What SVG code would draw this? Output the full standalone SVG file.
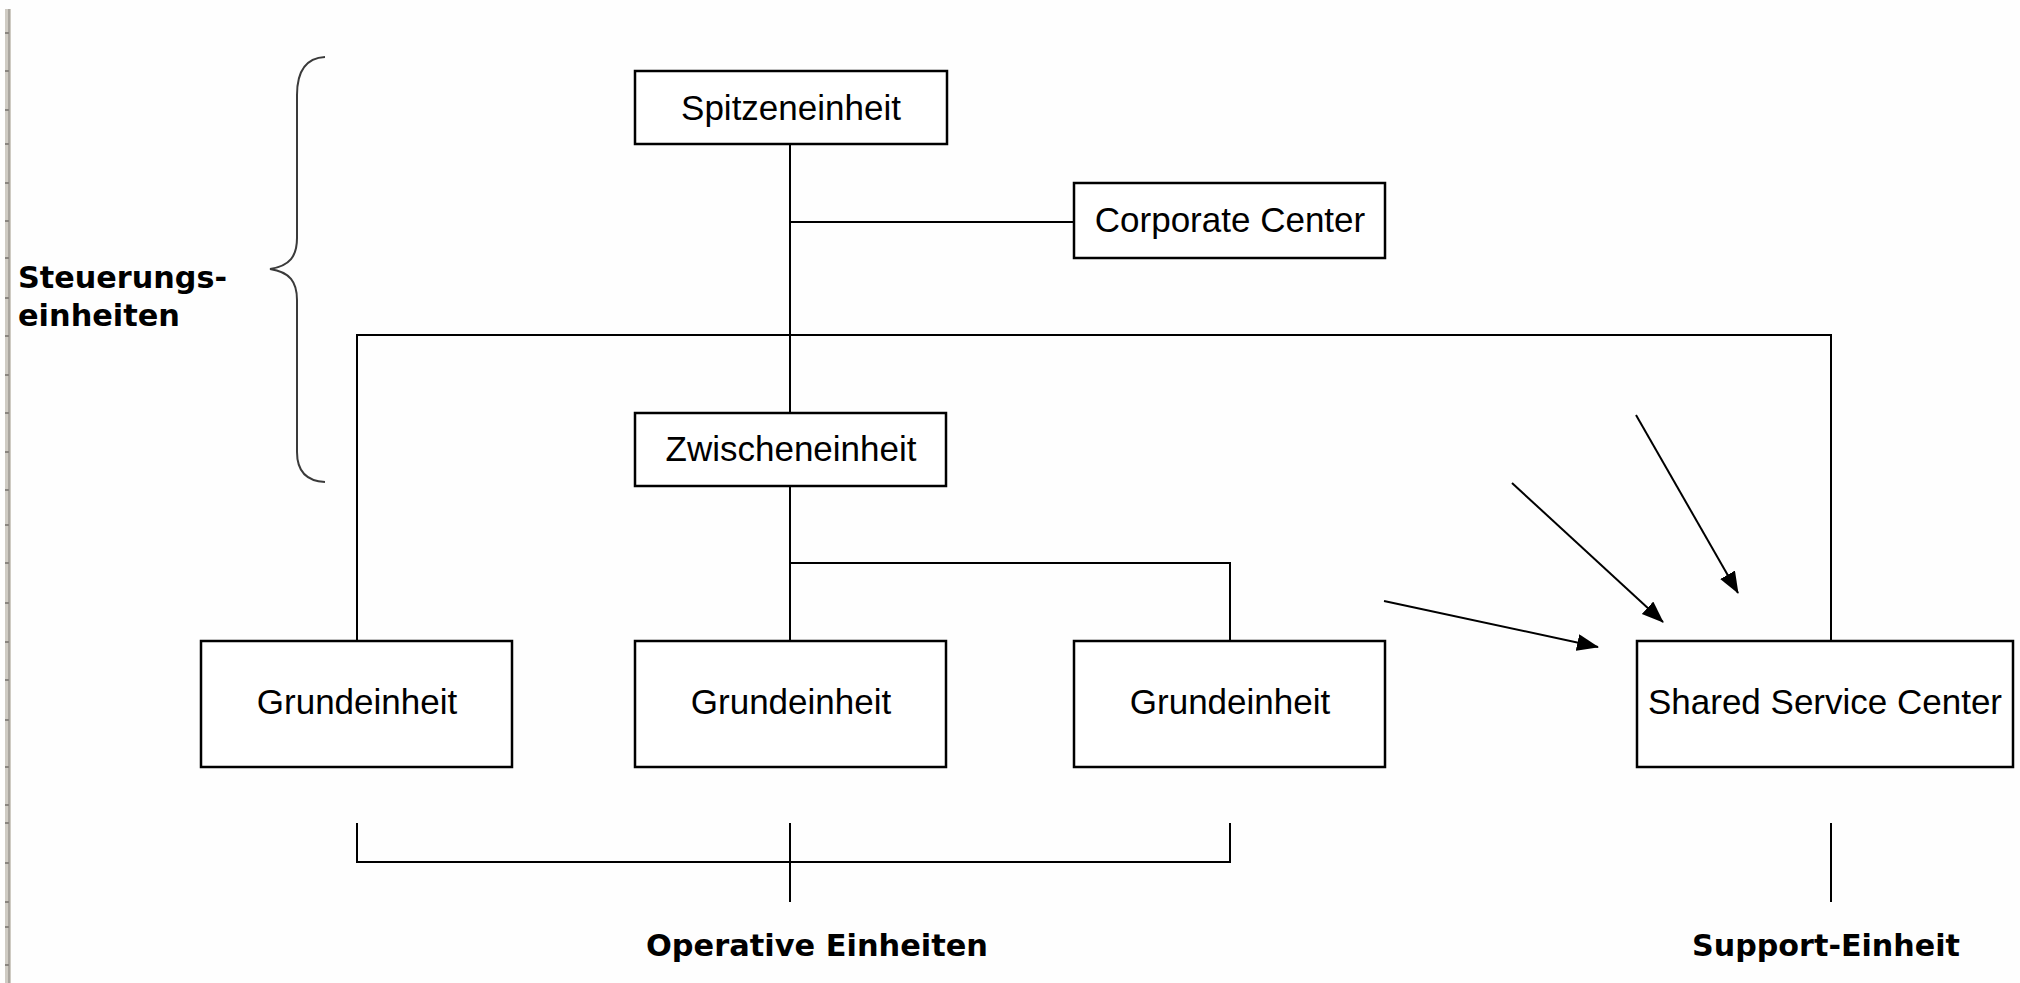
<svg xmlns="http://www.w3.org/2000/svg" width="2020" height="983" viewBox="0 0 2020 983">
  <defs>
    <marker id="arrow" markerUnits="userSpaceOnUse" markerWidth="24" markerHeight="18" refX="21" refY="8.5" orient="auto">
      <path d="M0,0 L22,8.5 L0,17 z" fill="#000"/>
    </marker>
    <style>
      .box { fill: #fff; stroke: #000; stroke-width: 2.5; }
      .lbl { font-family: "Liberation Sans", Arial, sans-serif; font-size: 35px; fill: #000; text-anchor: middle; }
      .bold { font-family: "DejaVu Sans", Verdana, sans-serif; font-size: 30px; font-weight: bold; fill: #000; }
      .conn { fill: none; stroke: #000; stroke-width: 2; }
      .tick { stroke: #8a8680; stroke-width: 2; }
    </style>
  </defs>
  <rect x="0" y="0" width="2020" height="983" fill="#fefefe"/>

  <!-- ruler artifact at left edge -->
  <g id="ruler">
    <rect x="5" y="9" width="6" height="974" fill="#cfcbc3"/>
    <line x1="9" y1="9" x2="9" y2="983" stroke="#9e9a93" stroke-width="1.5"/>
    <path class="tick" d="M5,33h4M5,71h4M5,110h4M5,144h4M5,183h4M5,221h4M5,258h4M5,298h4M5,336h4M5,375h4M5,413h4M5,452h4M5,490h4M5,525h4M5,563h4M5,603h4M5,642h4M5,680h4M5,720h4M5,767h4M5,805h4M5,823h4M5,863h4M5,902h4M5,927h4M5,965h4"/>
  </g>

  <!-- brace -->
  <g id="brace">
    <path d="M325,57 C305,58 297,72 297,95 L297,238 C297,256 290,266 270,269 C290,272 297,282 297,300 L297,452 C297,470 305,481 325,482" fill="none" stroke="#3a3a3a" stroke-width="2"/>
  </g>

  <g id="connectors">
    <line class="conn" x1="790" y1="144" x2="790" y2="413"/>
    <line class="conn" x1="790" y1="222" x2="1074" y2="222"/>
    <polyline class="conn" points="357,641 357,335 1831,335 1831,641"/>
    <line class="conn" x1="790" y1="486" x2="790" y2="641"/>
    <polyline class="conn" points="790,563 1230,563 1230,641"/>
    <line class="conn" x1="1636" y1="415" x2="1738" y2="593" marker-end="url(#arrow)"/>
    <line class="conn" x1="1512" y1="483" x2="1663" y2="622" marker-end="url(#arrow)"/>
    <line class="conn" x1="1384" y1="601" x2="1598" y2="647" marker-end="url(#arrow)"/>
    <polyline class="conn" points="357,823 357,862 1230,862 1230,823"/>
    <line class="conn" x1="790" y1="823" x2="790" y2="902"/>
    <line class="conn" x1="1831" y1="823" x2="1831" y2="902"/>
  </g>

  <g id="spitzeneinheit">
    <rect class="box" x="635" y="71" width="312" height="73"/>
    <text class="lbl" x="791" y="120">Spitzeneinheit</text>
  </g>
  <g id="corporate-center">
    <rect class="box" x="1074" y="183" width="311" height="75"/>
    <text class="lbl" x="1230" y="232">Corporate Center</text>
  </g>
  <g id="zwischeneinheit">
    <rect class="box" x="635" y="413" width="311" height="73"/>
    <text class="lbl" x="791" y="461">Zwischeneinheit</text>
  </g>
  <g id="grundeinheit-1">
    <rect class="box" x="201" y="641" width="311" height="126"/>
    <text class="lbl" x="357" y="714">Grundeinheit</text>
  </g>
  <g id="grundeinheit-2">
    <rect class="box" x="635" y="641" width="311" height="126"/>
    <text class="lbl" x="791" y="714">Grundeinheit</text>
  </g>
  <g id="grundeinheit-3">
    <rect class="box" x="1074" y="641" width="311" height="126"/>
    <text class="lbl" x="1230" y="714">Grundeinheit</text>
  </g>
  <g id="shared-service-center">
    <rect class="box" x="1637" y="641" width="376" height="126"/>
    <text class="lbl" x="1825" y="714">Shared Service Center</text>
  </g>

  <g id="labels">
    <text class="bold" x="18" y="288" textLength="209" lengthAdjust="spacingAndGlyphs">Steuerungs-</text>
    <text class="bold" x="18" y="326" textLength="162" lengthAdjust="spacingAndGlyphs">einheiten</text>
    <text class="bold" x="646" y="956" textLength="342" lengthAdjust="spacingAndGlyphs">Operative Einheiten</text>
    <text class="bold" x="1692" y="956" textLength="268" lengthAdjust="spacingAndGlyphs">Support-Einheit</text>
  </g>
</svg>
